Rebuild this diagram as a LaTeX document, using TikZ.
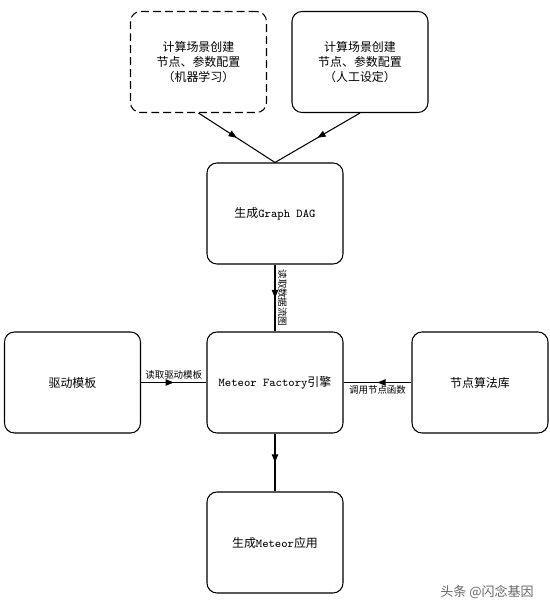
\documentclass[tikz,border=0pt]{standalone}
\usepackage{fontspec}
\setmainfont{Noto Sans CJK SC}
\usepackage{xcolor}
\usepackage{tikz}
\usetikzlibrary{arrows.meta}
\usetikzlibrary{decorations.markings}

\tikzset{
    box/.style={draw, line width=0.6pt, rounded corners=0.2cm, minimum width=2.72cm,
        minimum height=2.02cm, align=center, font=\fontsize{6.8}{8.3}\selectfont},
    midarrow/.style={line width=0.6pt, postaction={decorate}, decoration={markings,
        mark=at position 0.5 with {\arrow{Triangle[length=4.6pt,width=3.6pt]}}}},
    lbl/.style={font=\fontsize{5.4}{6}\selectfont, inner sep=1.5pt}
}

\begin{document}
\begin{tikzpicture}
    \useasboundingbox (0,0) rectangle (11,12.2);

    \node[box, dash pattern=on 4.5pt off 2.3pt] (ml) at (3.97,10.96) {计算场景创建\\节点、参数配置\\（机器学习）};
    \node[box] (hm) at (7.2,10.96) {计算场景创建\\节点、参数配置\\（人工设定）};
    \node[box] (dag) at (5.5,7.93) {生成\texttt{Graph DAG}};
    \node[box] (drv) at (1.45,4.55) {驱动模板};
    \node[box] (eng) at (5.5,4.55) {\texttt{Meteor Factory}引擎};
    \node[box] (lib) at (9.6,4.55) {节点算法库};
    \node[box] (app) at (5.5,1.35) {生成\texttt{Meteor}应用};

    \draw[midarrow] (ml.south) -- (dag.north);
    \draw[midarrow] (hm.south) -- (dag.north);
    \draw[midarrow] (dag) -- node[lbl, midway, anchor=south, rotate=-90] {读取数据流图} (eng);
    \draw[midarrow] (drv) -- node[lbl, midway, above] {读取驱动模板} (eng);
    \draw[midarrow] (lib) -- node[lbl, midway, below] {调用节点函数} (eng);
    \draw[midarrow] (eng) -- (app);

    \node[gray!80!black, font=\fontsize{7.4}{8}\selectfont] (wm) at (9.74,0.36) {头条 @闪念基因};
\end{tikzpicture}
\end{document}
